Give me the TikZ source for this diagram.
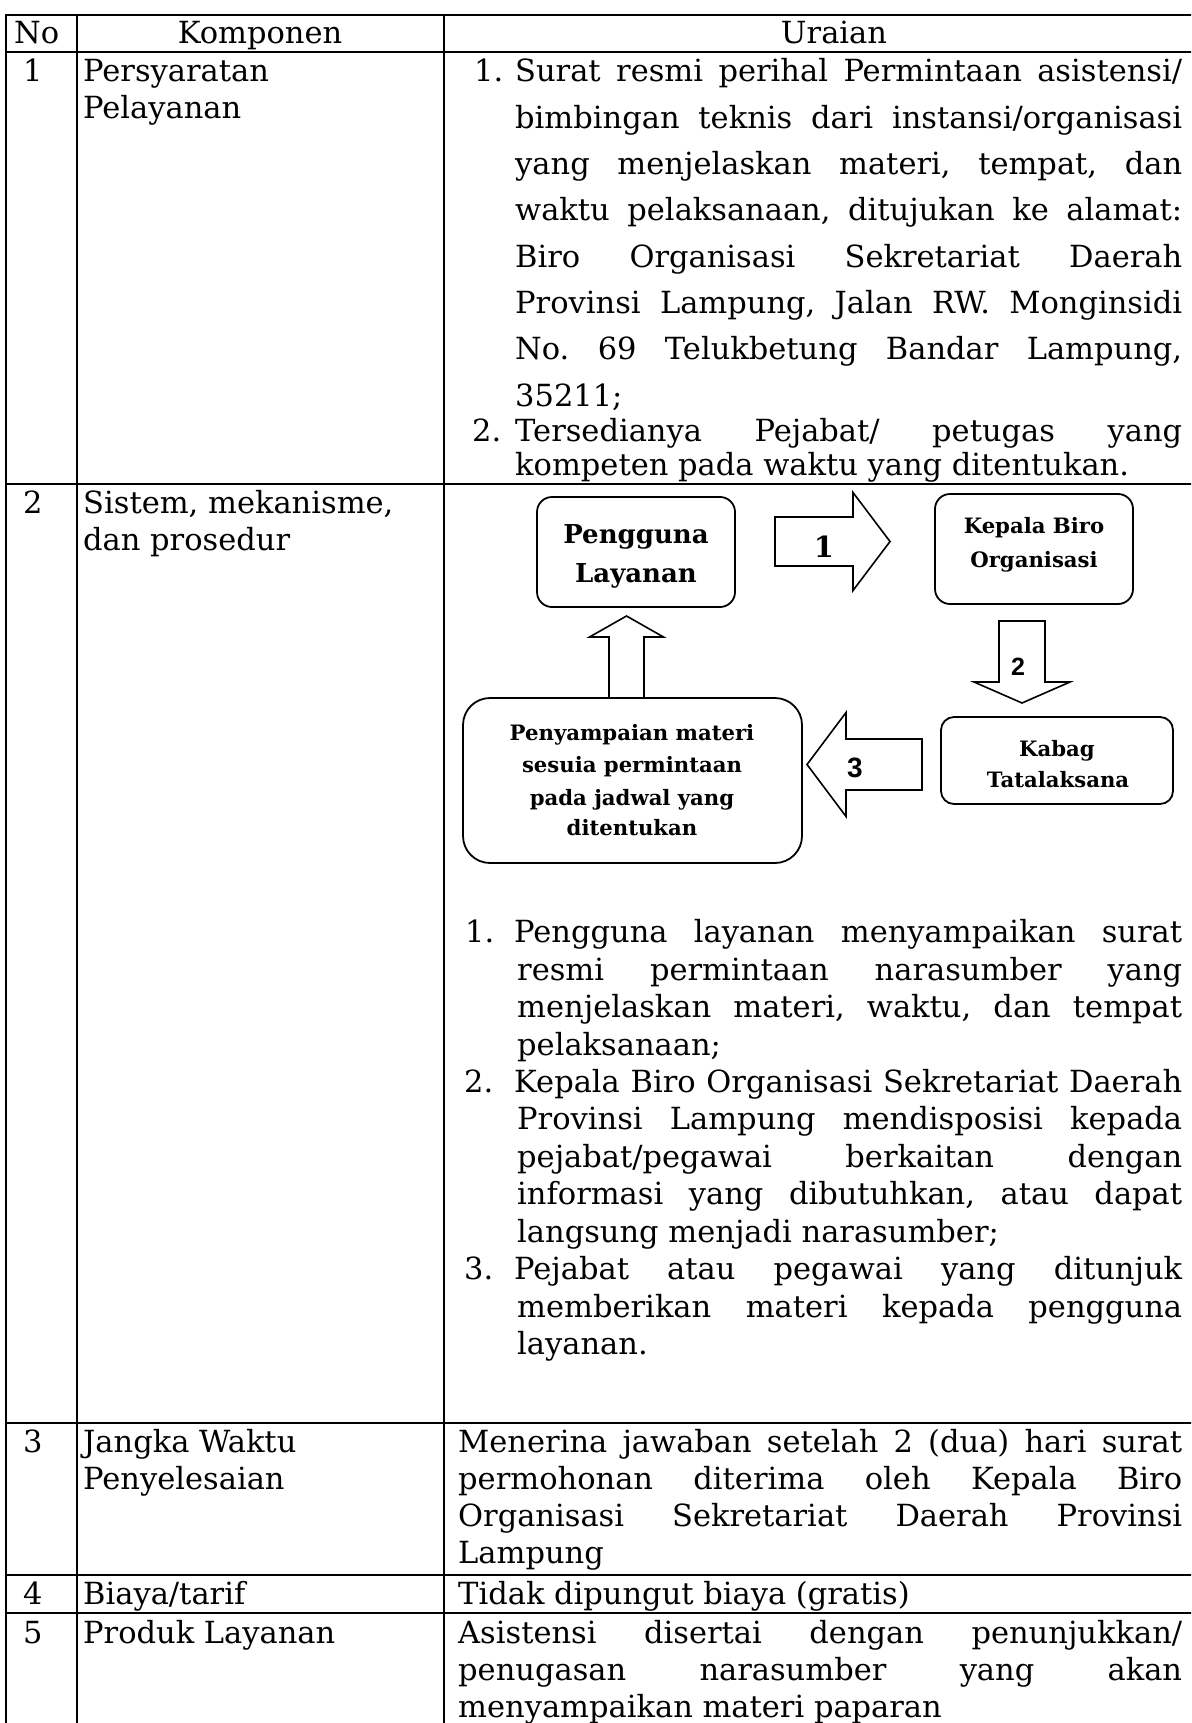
\documentclass[tikz,border=0pt]{standalone}
\usepackage{fontspec}
\setmainfont{DejaVu Serif}
\newfontfamily\numsansfont{Liberation Sans}
\usetikzlibrary{calc}
\frenchspacing

% one justified line of body text, stretched to a given width
\newcommand\txtj[4]{\node[body] (#1) at (#2) {\makebox[#3pt][s]{#4}};}
% one ragged (natural width) line of body text
\newcommand\txtl[3]{\node[body] (#1) at (#2) {#3};}

\begin{document}
\begin{tikzpicture}[x=1pt,y=-1pt,
  rule/.style={line width=2.6pt},
  body/.style={anchor=base west, inner sep=0pt, font={\fontsize{30.5}{37}\selectfont}},
  headtxt/.style={anchor=base, inner sep=0pt, font={\fontsize{30.5}{37}\selectfont}},
  flowbox/.style={draw, line width=1.8pt, inner sep=0pt},
  bigbold/.style={anchor=base, inner sep=0pt, font={\fontsize{26}{30}\selectfont\bfseries}},
  smallbold/.style={anchor=base, inner sep=0pt, font={\fontsize{21.2}{26}\selectfont\bfseries}},
  blockarrow/.style={draw, line width=1.6pt, fill=white, line join=miter},
  numserif/.style={anchor=base, inner sep=0pt, font={\fontsize{29}{34}\selectfont\bfseries}},
  numsans/.style={anchor=base, inner sep=0pt, font={\fontsize{25}{30}\numsansfont\bfseries}},
]
\useasboundingbox (0,0) rectangle (1191,1723);
\clip (0,0) rectangle (1191,1723);

% ---------------- table grid ----------------
\draw[rule] (6,15) rectangle (1200,1760);
\draw[rule] (77,15) -- (77,1760);
\draw[rule] (444,15) -- (444,1760);
\foreach \yy in {52,484,1423,1575,1613}
  \draw[rule] (6,\yy) -- (1200,\yy);

% ---------------- header ----------------
\node[body] (hno) at (14,44) {No};
\node[headtxt] (hkomp) at (260,44) {Komponen};
\node[headtxt] (hurai) at (834,44) {Uraian};

% ---------------- row 1 ----------------
\txtl{n1}{23,82}{1}
\txtl{k1a}{83,82}{Persyaratan}
\txtl{k1b}{83,119}{Pelayanan}
\txtl{u1n}{474,82}{1.}
\txtj{u1a}{515,82}{667}{Surat resmi perihal Permintaan asistensi/}
\txtj{u1b}{515,128.3}{667}{bimbingan teknis dari instansi/organisasi}
\txtj{u1c}{515,174.6}{667}{yang menjelaskan materi, tempat, dan}
\txtj{u1d}{515,220.9}{667}{waktu pelaksanaan, ditujukan ke alamat:}
\txtj{u1e}{515,267.2}{667}{Biro Organisasi Sekretariat Daerah}
\txtj{u1f}{515,313.5}{667}{Provinsi Lampung, Jalan RW. Monginsidi}
\txtj{u1g}{515,359.8}{667}{No. 69 Telukbetung Bandar Lampung,}
\txtl{u1h}{515,406.1}{35211;}
\txtl{u1i}{472,441}{2.}
\txtj{u1j}{515,441}{667}{Tersedianya Pejabat/ petugas yang}
\txtl{u1k}{515,475}{kompeten pada waktu yang ditentukan.}

% ---------------- row 2 ----------------
\txtl{n2}{23,513}{2}
\txtl{k2a}{83,513}{Sistem, mekanisme,}
\txtl{k2b}{83,550}{dan prosedur}

% flow chart boxes
\node[flowbox, rounded corners=15pt, minimum width=198pt, minimum height=110pt] (user) at (636,552) {};
\node[flowbox, rounded corners=15pt, minimum width=198pt, minimum height=110pt] (chief) at (1034,549) {};
\node[flowbox, rounded corners=13pt, minimum width=232pt, minimum height=87pt] (kabag) at (1057,760.5) {};

% block arrows with their step numbers
\coordinate (t1) at (775,541.5);
\begin{scope}[shift={(t1)}]
  \draw[blockarrow] (0,-24.5) -- (78,-24.5) -- (78,-49) -- (115,0) -- (78,49) -- (78,24.5) -- (0,24.5) -- cycle;
  \node[numserif] (s1) at (49,15.5) {1};
\end{scope}
\coordinate (t2) at (1022,621);
\begin{scope}[shift={(t2)}]
  \draw[blockarrow] (-23,0) -- (23,0) -- (23,61) -- (48,61) -- (0,82) -- (-48,61) -- (-23,61) -- cycle;
  \node[numsans] (s2) at (-4,54) {2};
\end{scope}
\coordinate (t3) at (922,764.5);
\begin{scope}[shift={(t3)}]
  \draw[blockarrow] (0,-25.5) -- (-76,-25.5) -- (-76,-52) -- (-115,0) -- (-76,52) -- (-76,25.5) -- (0,25.5) -- cycle;
  \node[numsans, font={\fontsize{28}{32}\numsansfont\bfseries}] (s3) at (-67,12.5) {3};
\end{scope}
\coordinate (t4) at (626.5,698);
\begin{scope}[shift={(t4)}]
  \draw[blockarrow] (-17.5,0) -- (-17.5,-61) -- (-37,-61) -- (0,-82) -- (37,-61) -- (17.5,-61) -- (17.5,0) -- cycle;
\end{scope}

\node[flowbox, rounded corners=27pt, minimum width=339pt, minimum height=165pt] (deliver) at (632.5,780.5) {};

% box texts
\node[bigbold] (user1) at (636,543) {Pengguna};
\node[bigbold] (user2) at (636,582) {Layanan};
\node[smallbold] (chief1) at (1034,533) {Kepala Biro};
\node[smallbold] (chief2) at (1034,567) {Organisasi};
\node[smallbold] (kabag1) at (1057,756) {Kabag};
\node[smallbold] (kabag2) at (1058,787) {Tatalaksana};
\node[smallbold] (del1) at (632,740) {Penyampaian materi};
\node[smallbold] (del2) at (632,772) {sesuia permintaan};
\node[smallbold] (del3) at (632,805) {pada jadwal yang};
\node[smallbold] (del4) at (632,835) {ditentukan};

% procedure list
\txtl{p1n}{465,942.7}{1.}
\txtj{p1a}{514,942.7}{668}{Pengguna layanan menyampaikan surat}
\txtj{p1b}{517,980.15}{665}{resmi permintaan narasumber yang}
\txtj{p1c}{517,1017.6}{665}{menjelaskan materi, waktu, dan tempat}
\txtl{p1d}{517,1055.05}{pelaksanaan;}
\txtl{p2n}{464,1092.5}{2.}
\txtj{p2a}{514,1092.5}{668}{Kepala Biro Organisasi Sekretariat Daerah}
\txtj{p2b}{517,1129.95}{665}{Provinsi Lampung mendisposisi kepada}
\txtj{p2c}{517,1167.4}{665}{pejabat/pegawai berkaitan dengan}
\txtj{p2d}{517,1204.85}{665}{informasi yang dibutuhkan, atau dapat}
\txtl{p2e}{517,1242.3}{langsung menjadi narasumber;}
\txtl{p3n}{464,1279.75}{3.}
\txtj{p3a}{514,1279.75}{668}{Pejabat atau pegawai yang ditunjuk}
\txtj{p3b}{517,1317.2}{665}{memberikan materi kepada pengguna}
\txtl{p3c}{517,1354.65}{layanan.}

% ---------------- row 3 ----------------
\txtl{n3}{23,1452}{3}
\txtl{k3a}{83,1452}{Jangka Waktu}
\txtl{k3b}{83,1489}{Penyelesaian}
\txtj{u3a}{458,1452}{724}{Menerina jawaban setelah 2 (dua) hari surat}
\txtj{u3b}{458,1489}{724}{permohonan diterima oleh Kepala Biro}
\txtj{u3c}{458,1526}{724}{Organisasi Sekretariat Daerah Provinsi}
\txtl{u3d}{458,1563}{Lampung}

% ---------------- row 4 ----------------
\txtl{n4}{23,1604}{4}
\txtl{k4a}{83,1604}{Biaya/tarif}
\txtl{u4a}{458,1604}{Tidak dipungut biaya (gratis)}

% ---------------- row 5 ----------------
\txtl{n5}{23,1643}{5}
\txtl{k5a}{83,1643}{Produk Layanan}
\txtj{u5a}{458,1643}{724}{Asistensi disertai dengan penunjukkan/}
\txtj{u5b}{458,1680}{724}{penugasan narasumber yang akan}
\txtl{u5c}{458,1717}{menyampaikan materi paparan}

\end{tikzpicture}
\end{document}
